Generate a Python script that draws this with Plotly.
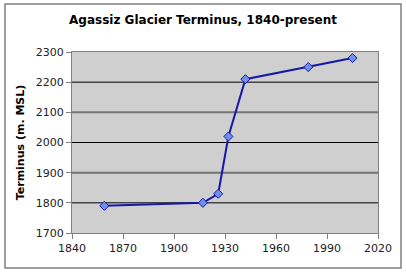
import plotly.graph_objects as go

years = [1859, 1917, 1926, 1932, 1942, 1979, 2005]
terminus = [1790, 1800, 1830, 2020, 2210, 2250, 2280]
x_ticks = [1840, 1870, 1900, 1930, 1960, 1990, 2020]
y_ticks = [1700, 1800, 1900, 2000, 2100, 2200, 2300]

fig = go.Figure()

L, R, T, B = 72, 28, 52, 39
W, H = 406, 272
pw, ph = W - L - R, H - T - B

# horizontal gridlines (alternate rendering as in the reference image)
for i, yv in enumerate(y_ticks[1:-1]):
    dark = (i % 2 == 0)
    fig.add_hline(y=yv, line=dict(color="black" if dark else "#757575",
                                  width=1 if dark else 2), layer="below")

fig.add_trace(go.Scatter(
    x=years, y=terminus, mode="lines+markers",
    line=dict(color="#1818a8", width=2),
    marker=dict(symbol="diamond", size=7, color="#7090f0",
                line=dict(color="#1818a8", width=1)),
))

fig.update_layout(
    width=W, height=H,
    margin=dict(l=L, r=R, t=T, b=B),
    paper_bgcolor="white",
    plot_bgcolor="#cfcfcf",
    showlegend=False,
    font=dict(family="DejaVu Sans", size=11, color="#222"),
    title=dict(text="<b>Agassiz Glacier Terminus, 1840-present</b>",
               x=0.5, xanchor="center", y=1 - 20 / H, yanchor="middle",
               font=dict(family="DejaVu Sans", size=12, color="black")),
    xaxis=dict(range=[1840, 2020], tickvals=x_ticks, showgrid=False,
               zeroline=False, ticks="outside", ticklen=5, tickcolor="#808080",
               showline=True, linecolor="#808080", linewidth=1, mirror=True,
               tickfont=dict(size=11, color="#222")),
    yaxis=dict(range=[1700, 2300], tickvals=y_ticks, showgrid=False,
               zeroline=False,
               ticks="outside", ticklen=5, tickcolor="#808080",
               showline=True, linecolor="#808080", linewidth=1, mirror=True,
               title=dict(text="<b>Terminus (m. MSL)</b>", standoff=8,
                          font=dict(size=11, color="black")),
               tickfont=dict(size=11, color="#222")),
)
fig.add_shape(type="rect", xref="paper", yref="paper",
              x0=(5 - L) / pw, x1=(401 - L) / pw,
              y0=-(268 - (T + ph)) / ph, y1=1 + (T - 4) / ph,
              line=dict(color="#808080", width=1.5), layer="above")
fig.write_html("out.html")
